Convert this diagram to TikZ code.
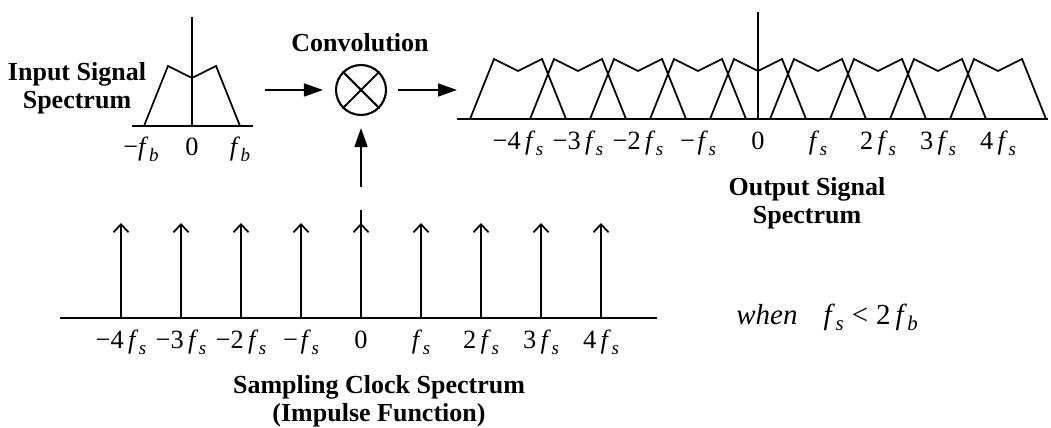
\documentclass[tikz,border=0pt]{standalone}
\usepackage{fontspec}
\setmainfont{Liberation Serif}
\usepackage{graphicx}
\usepackage{tikz}
\usetikzlibrary{arrows.meta, positioning, calc}

\newcommand{\fsub}[1]{\textit{f}\kern0.02em\raisebox{-0.45ex}{\scalebox{0.72}{\textit{#1}}}}

\begin{document}
\begin{tikzpicture}[
    x=0.02cm, y=-0.02cm,
    axis/.style={line width=1pt},
    spec/.style={line width=1pt, line join=miter},
    impulse/.style={line width=1pt, -{Straight Barb[length=0.16cm, width=0.3cm]}},
    flow/.style={line width=1pt, -{Triangle[length=0.38cm, width=0.26cm]}},
    title/.style={font=\bfseries\fontsize{14.8}{15.9}\selectfont, align=center, inner sep=0pt, anchor=north},
    lbl/.style={font=\fontsize{15}{15}\selectfont, inner sep=0pt, anchor=base},
    mixer/.style={circle, draw, line width=1.2pt, minimum size=1cm, inner sep=0pt}
  ]
  \useasboundingbox (0,0) rectangle (1051,428);

  % input signal spectrum
  \draw[axis] (132,126) -- (253,126);
  \draw[axis] (192,126) -- (192,17);
  \draw[spec] (144,126) -- (168,66) -- (192,78) -- (216,66) -- (240,126);
  \node[lbl] (inneg) at (141,156) {−\fsub{b}};
  \node[lbl] (inzero) at (192,156) {0};
  \node[lbl] (inpos) at (240,156) {\fsub{b}};
  \node[title] (intitle) at (77,62) {Input Signal\\Spectrum};

  % convolution
  \node[mixer] (conv) at (361,90) {};
  \draw[line width=1.2pt] (conv.45) -- (conv.225) (conv.135) -- (conv.315);
  \node[title] (convtitle) at (360,33) {Convolution};
  \coordinate (convin) at (265,90);
  \coordinate (convout) at (457,90);
  \coordinate (convup) at (361,187);
  \draw[flow, shorten >=0.24cm] (convin) -- (conv);
  \draw[flow, shorten <=0.22cm] (conv) -- (convout);
  \draw[flow, shorten >=0.24cm] (convup) -- (conv);

  % output signal spectrum
  \draw[axis] (457,119) -- (1048,119);
  \draw[axis] (758,119) -- (758,12);
  \foreach \k in {-4,...,4}
    \draw[spec] ({758+60*\k-48},119) -- ++(24,-60) -- ++(24,12) -- ++(24,-12) -- ++(24,60);
  \foreach \k/\txt in {-4/{−4\,\fsub{s}}, -3/{−3\,\fsub{s}}, -2/{−2\,\fsub{s}}, -1/{−\kern0.1em\fsub{s}}, 0/0, 1/\fsub{s}, 2/{2\,\fsub{s}}, 3/{3\,\fsub{s}}, 4/{4\,\fsub{s}}}
    \node[lbl] (outlbl\k) at ({758+60*\k},150) {\txt};
  \node[title] (outtitle) at (807,177) {Output Signal\\Spectrum};

  % sampling clock spectrum
  \draw[axis] (60,318) -- (657,318);
  \draw[axis] (361,318) -- (361,210);
  \foreach \k in {-4,...,4}
    \draw[impulse] ({361+60*\k},318) -- ({361+60*\k},223);
  \foreach \k/\txt in {-4/{−4\,\fsub{s}}, -3/{−3\,\fsub{s}}, -2/{−2\,\fsub{s}}, -1/{−\kern0.1em\fsub{s}}, 0/0, 1/\fsub{s}, 2/{2\,\fsub{s}}, 3/{3\,\fsub{s}}, 4/{4\,\fsub{s}}}
    \node[lbl] (samplbl\k) at ({361+60*\k},349) {\txt};
  \node[title] (samptitle) at (379,375) {Sampling Clock Spectrum\\(Impulse Function)};

  \node[lbl, font=\fontsize{16.5}{16.5}\selectfont, anchor=base west] (cond) at (736,325) {\textit{when}\hspace{0.9em}\fsub{s}\;<\;2\,\fsub{b}};
\end{tikzpicture}
\end{document}
